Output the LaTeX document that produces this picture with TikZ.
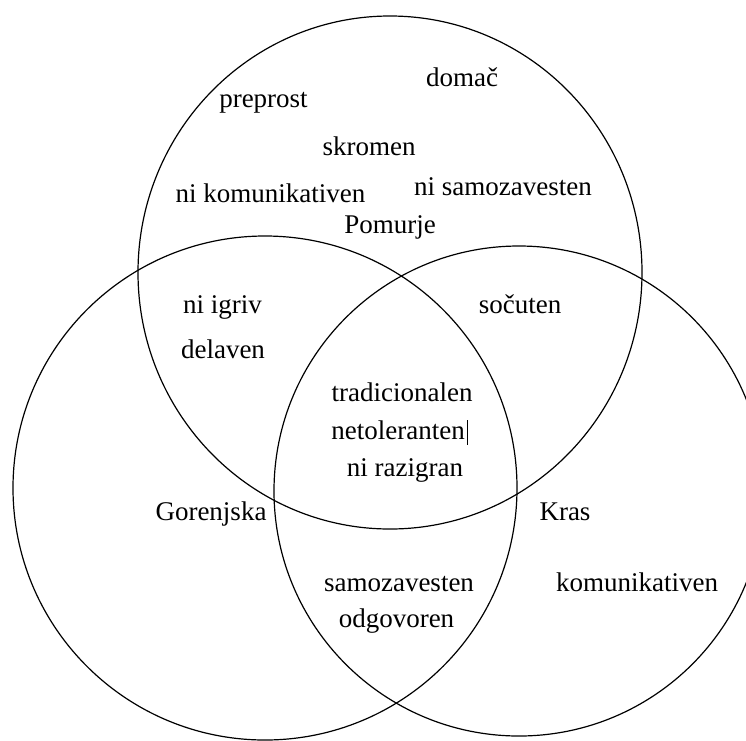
\documentclass[tikz,border=0pt]{standalone}
\usepackage{fontspec}
\setmainfont{Liberation Serif}
\usetikzlibrary{shapes.geometric}
\begin{document}
\begin{tikzpicture}[x=1pt,y=-1pt,
  setline/.style={draw=black, line width=1.2pt, inner sep=0pt, outer sep=0pt},
  word/.style={anchor=mid, inner sep=0pt, yshift=-5pt, font=\fontsize{27}{31}\selectfont}]
  \useasboundingbox (0,0) rectangle (746,740);
  \clip (0,0) rectangle (746,740);
  \fill[white] (0,0) rectangle (746,740);

  % the three sets
  \node[setline, ellipse, minimum width=504pt, minimum height=513pt] (pomurje) at (390,272.5) {};
  \node[setline, circle, minimum size=504pt] (gorenjska) at (265,488) {};
  \node[setline, circle, minimum size=490pt] (kras) at (519,491) {};

  % Pomurje only
  \node[word] (preprost) at (263.5,100) {preprost};
  \node[word] (domac) at (462,79) {domač};
  \node[word] (skromen) at (369,148) {skromen};
  \node[word] (nikom) at (270.5,195) {ni komunikativen};
  \node[word] (nisamo) at (503,188) {ni samozavesten};
  \node[word] (lpomurje) at (390,226) {Pomurje};

  % Pomurje and Gorenjska
  \node[word] (niigriv) at (222.5,306) {ni igriv};
  \node[word] (delaven) at (223,351) {delaven};

  % Pomurje and Kras
  \node[word] (socuten) at (520,306) {sočuten};

  % all three
  \node[word] (trad) at (402,394) {tradicionalen};
  \node[word] (netol) at (398,432) {netoleranten};
  \node[word] (nirazig) at (405,469) {ni razigran};
  \coordinate (cursor) at (467,432);
  \draw[line width=1pt] (cursor) ++(0,-12) -- ++(0,25);

  % set labels
  \node[word] (lgorenjska) at (211,513) {Gorenjska};
  \node[word] (lkras) at (565,513) {Kras};

  % Gorenjska and Kras
  \node[word] (samoz) at (399,584) {samozavesten};
  \node[word] (odgov) at (396.5,620) {odgovoren};

  % Kras only
  \node[word] (komun) at (637,584) {komunikativen};
\end{tikzpicture}
\end{document}
